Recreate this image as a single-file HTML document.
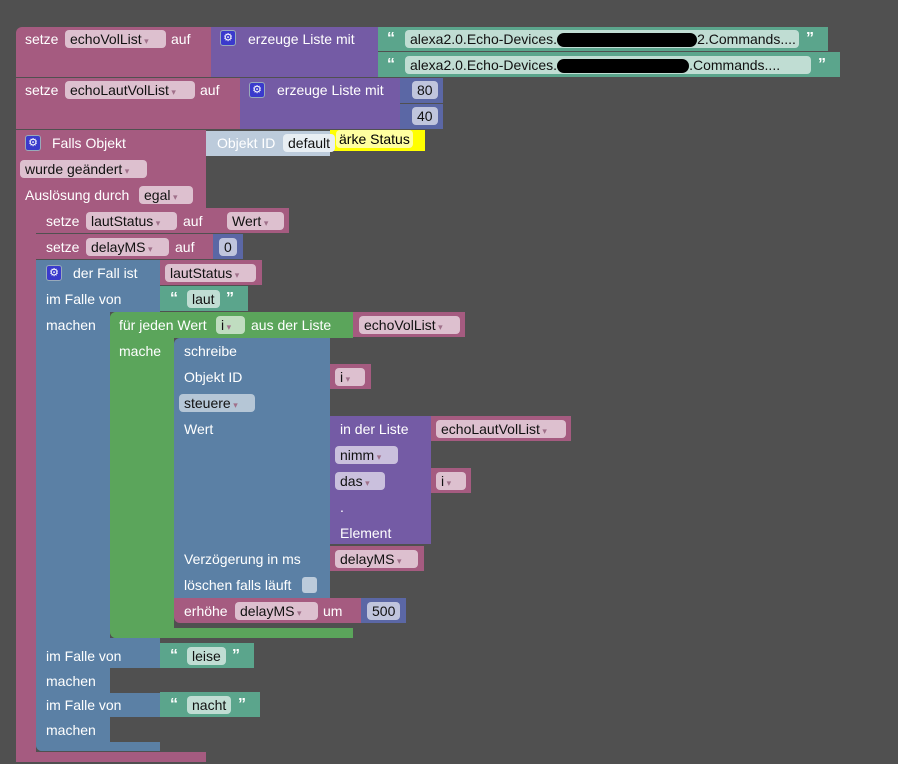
<!DOCTYPE html>
<html><head><meta charset="utf-8"><style>
body{margin:0;width:898px;height:764px;background:#505050;position:relative;overflow:hidden;font-family:"Liberation Sans",Arial,sans-serif;font-size:14px;color:#fff}
.b{position:absolute}
.pk{background:#a55b80}.pu{background:#745ba5}.te{background:#5ba58c}.bl{background:#5b80a5}.gr{background:#5ba55b}.nu{background:#5b67a5}
.t{position:absolute;white-space:nowrap;line-height:18px}
.f{position:absolute;background:rgba(255,255,255,.62);color:#111;border-radius:4px;height:18px;line-height:18px;padding:0 5px;white-space:nowrap;box-sizing:border-box;overflow:hidden}
.f.d::after{content:" ▾";font-size:9px;color:#a0708a}
.g{position:absolute;width:16px;height:16px;background:#3a3acc;border:1px solid #9ab;border-radius:3px;box-sizing:border-box;color:#fff;font-size:11px;text-align:center;line-height:14px}
.q{position:absolute;font-weight:bold;font-size:16px;line-height:18px}
</style></head><body>
<div class="b pk" style="left:16px;top:27px;width:195px;height:50px;border-radius:6px 0 0 0"></div>
<div class="t" style="left:25px;top:30px">setze</div><div class="f d" style="left:65px;top:30px;width:101px">echoVolList</div><div class="t" style="left:171px;top:30px">auf</div>
<div class="b pu" style="left:211px;top:27px;width:167px;height:50px"></div>
<div class="g" style="left:220px;top:30px">⚙</div><div class="t" style="left:248px;top:30px">erzeuge Liste mit</div>
<div class="b te" style="left:378px;top:27px;width:450px;height:24px"></div>
<div class="q" style="left:387px;top:30px">“</div><div class="f" style="left:405px;top:30px;width:394px">alexa2.0.Echo-Devices.<span style="display:inline-block;width:140px;height:14px;background:#000;border-radius:7px;vertical-align:middle"></span>2.Commands....</div><div class="q" style="left:806px;top:30px">”</div>
<div class="b te" style="left:378px;top:52px;width:462px;height:25px"></div>
<div class="q" style="left:387px;top:56px">“</div><div class="f" style="left:405px;top:56px;width:406px">alexa2.0.Echo-Devices.<span style="display:inline-block;width:132px;height:14px;background:#000;border-radius:7px;vertical-align:middle"></span>.Commands....</div><div class="q" style="left:818px;top:56px">”</div>
<div class="b pk" style="left:16px;top:78px;width:224px;height:51px"></div>
<div class="t" style="left:25px;top:81px">setze</div><div class="f d" style="left:65px;top:81px;width:130px">echoLautVolList</div><div class="t" style="left:200px;top:81px">auf</div>
<div class="b pu" style="left:240px;top:78px;width:160px;height:51px"></div>
<div class="g" style="left:249px;top:82px">⚙</div><div class="t" style="left:277px;top:81px">erzeuge Liste mit</div>
<div class="b nu" style="left:400px;top:78px;width:43px;height:25px"></div><div class="f" style="left:412px;top:81px">80</div>
<div class="b nu" style="left:400px;top:104px;width:43px;height:25px"></div><div class="f" style="left:412px;top:107px">40</div>
<div class="b" style="left:330px;top:130px;width:95px;height:21px;background:#ff0"></div><div class="f" style="left:336px;top:130px;background:#ffffa0;color:#000;padding:0 3px">ärke Status</div>
<div class="b pk" style="left:16px;top:130px;width:190px;height:78px"></div>
<div class="b pk" style="left:16px;top:130px;width:20px;height:632px"></div>
<div class="b pk" style="left:16px;top:752px;width:190px;height:10px;border-radius:0 0 0 6px"></div>
<div class="g" style="left:25px;top:135px">⚙</div><div class="t" style="left:52px;top:134px">Falls Objekt</div>
<div class="b" style="left:206px;top:131px;width:124px;height:25px;background:#bccbdb"></div>
<div class="t" style="left:217px;top:134px">Objekt ID</div><div class="f" style="left:283px;top:134px;background:#e8eef3">default</div>
<div class="f d" style="left:20px;top:160px;width:127px">wurde geändert</div>
<div class="t" style="left:25px;top:186px">Auslösung durch</div><div class="f d" style="left:139px;top:186px;width:54px">egal</div>
<div class="b pk" style="left:36px;top:208px;width:186px;height:25px"></div>
<div class="t" style="left:46px;top:212px">setze</div><div class="f d" style="left:86px;top:212px;width:91px">lautStatus</div><div class="t" style="left:183px;top:212px">auf</div>
<div class="b pk" style="left:222px;top:208px;width:67px;height:25px"></div><div class="f d" style="left:227px;top:212px;width:57px">Wert</div>
<div class="b pk" style="left:36px;top:234px;width:177px;height:25px"></div>
<div class="t" style="left:46px;top:238px">setze</div><div class="f d" style="left:86px;top:238px;width:83px">delayMS</div><div class="t" style="left:175px;top:238px">auf</div>
<div class="b nu" style="left:213px;top:234px;width:30px;height:25px"></div><div class="f" style="left:219px;top:238px">0</div>
<div class="b bl" style="left:36px;top:260px;width:124px;height:52px"></div>
<div class="b bl" style="left:36px;top:260px;width:74px;height:491px;border-radius:0 0 0 6px"></div>
<div class="b bl" style="left:36px;top:638px;width:124px;height:30px"></div>
<div class="b bl" style="left:36px;top:693px;width:124px;height:24px"></div>
<div class="b bl" style="left:36px;top:742px;width:124px;height:9px;border-radius:0 0 0 6px"></div>
<div class="g" style="left:46px;top:265px">⚙</div><div class="t" style="left:73px;top:264px">der Fall ist</div>
<div class="b pk" style="left:160px;top:260px;width:102px;height:25px"></div><div class="f d" style="left:165px;top:264px;width:91px">lautStatus</div>
<div class="t" style="left:46px;top:290px">im Falle von</div>
<div class="b te" style="left:160px;top:286px;width:88px;height:25px"></div><div class="q" style="left:170px;top:290px">“</div><div class="f" style="left:187px;top:290px">laut</div><div class="q" style="left:226px;top:290px">”</div>
<div class="t" style="left:46px;top:316px">machen</div>
<div class="b gr" style="left:110px;top:312px;width:243px;height:26px;border-radius:6px 0 0 0"></div>
<div class="b gr" style="left:110px;top:312px;width:64px;height:326px;border-radius:6px 0 0 6px"></div>
<div class="b gr" style="left:110px;top:628px;width:243px;height:10px;border-radius:0 0 0 6px"></div>
<div class="t" style="left:119px;top:316px">für jeden Wert</div><div class="f d" style="left:216px;top:316px;width:29px">i</div><div class="t" style="left:251px;top:316px">aus der Liste</div>
<div class="b pk" style="left:353px;top:312px;width:112px;height:25px"></div><div class="f d" style="left:359px;top:316px;width:101px">echoVolList</div>
<div class="t" style="left:119px;top:342px">mache</div>
<div class="b bl" style="left:174px;top:338px;width:156px;height:260px;border-radius:6px 0 0 0"></div>
<div class="t" style="left:184px;top:342px">schreibe</div>
<div class="t" style="left:184px;top:368px">Objekt ID</div>
<div class="b pk" style="left:330px;top:364px;width:41px;height:25px"></div><div class="f d" style="left:335px;top:368px;width:30px">i</div>
<div class="f d" style="left:179px;top:394px;width:76px;background:rgba(255,255,255,.55)">steuere</div>
<div class="t" style="left:184px;top:420px">Wert</div>
<div class="b pu" style="left:330px;top:416px;width:101px;height:128px"></div>
<div class="t" style="left:340px;top:420px">in der Liste</div>
<div class="b pk" style="left:431px;top:416px;width:140px;height:25px"></div><div class="f d" style="left:436px;top:420px;width:130px">echoLautVolList</div>
<div class="f d" style="left:335px;top:446px;width:63px">nimm</div>
<div class="f d" style="left:335px;top:472px;width:50px">das</div>
<div class="b pk" style="left:431px;top:468px;width:40px;height:25px"></div><div class="f d" style="left:436px;top:472px;width:30px">i</div>
<div class="t" style="left:340px;top:498px">.</div>
<div class="t" style="left:340px;top:524px">Element</div>
<div class="t" style="left:184px;top:550px">Verzögerung in ms</div>
<div class="b pk" style="left:330px;top:546px;width:94px;height:25px"></div><div class="f d" style="left:335px;top:550px;width:83px">delayMS</div>
<div class="t" style="left:184px;top:576px">löschen falls läuft</div>
<div class="b" style="left:302px;top:577px;width:15px;height:16px;background:#bccbdb;border-radius:3px"></div>
<div class="b pk" style="left:174px;top:598px;width:187px;height:25px;border-radius:0 0 0 6px"></div>
<div class="t" style="left:184px;top:602px">erhöhe</div><div class="f d" style="left:235px;top:602px;width:83px">delayMS</div><div class="t" style="left:323px;top:602px">um</div>
<div class="b nu" style="left:361px;top:598px;width:45px;height:25px"></div><div class="f" style="left:367px;top:602px">500</div>
<div class="t" style="left:46px;top:647px">im Falle von</div>
<div class="b te" style="left:160px;top:643px;width:94px;height:25px"></div><div class="q" style="left:170px;top:647px">“</div><div class="f" style="left:187px;top:647px">leise</div><div class="q" style="left:232px;top:647px">”</div>
<div class="t" style="left:46px;top:672px">machen</div>
<div class="t" style="left:46px;top:696px">im Falle von</div>
<div class="b te" style="left:160px;top:692px;width:100px;height:25px"></div><div class="q" style="left:170px;top:696px">“</div><div class="f" style="left:187px;top:696px">nacht</div><div class="q" style="left:238px;top:696px">”</div>
<div class="t" style="left:46px;top:721px">machen</div>
</body></html>
